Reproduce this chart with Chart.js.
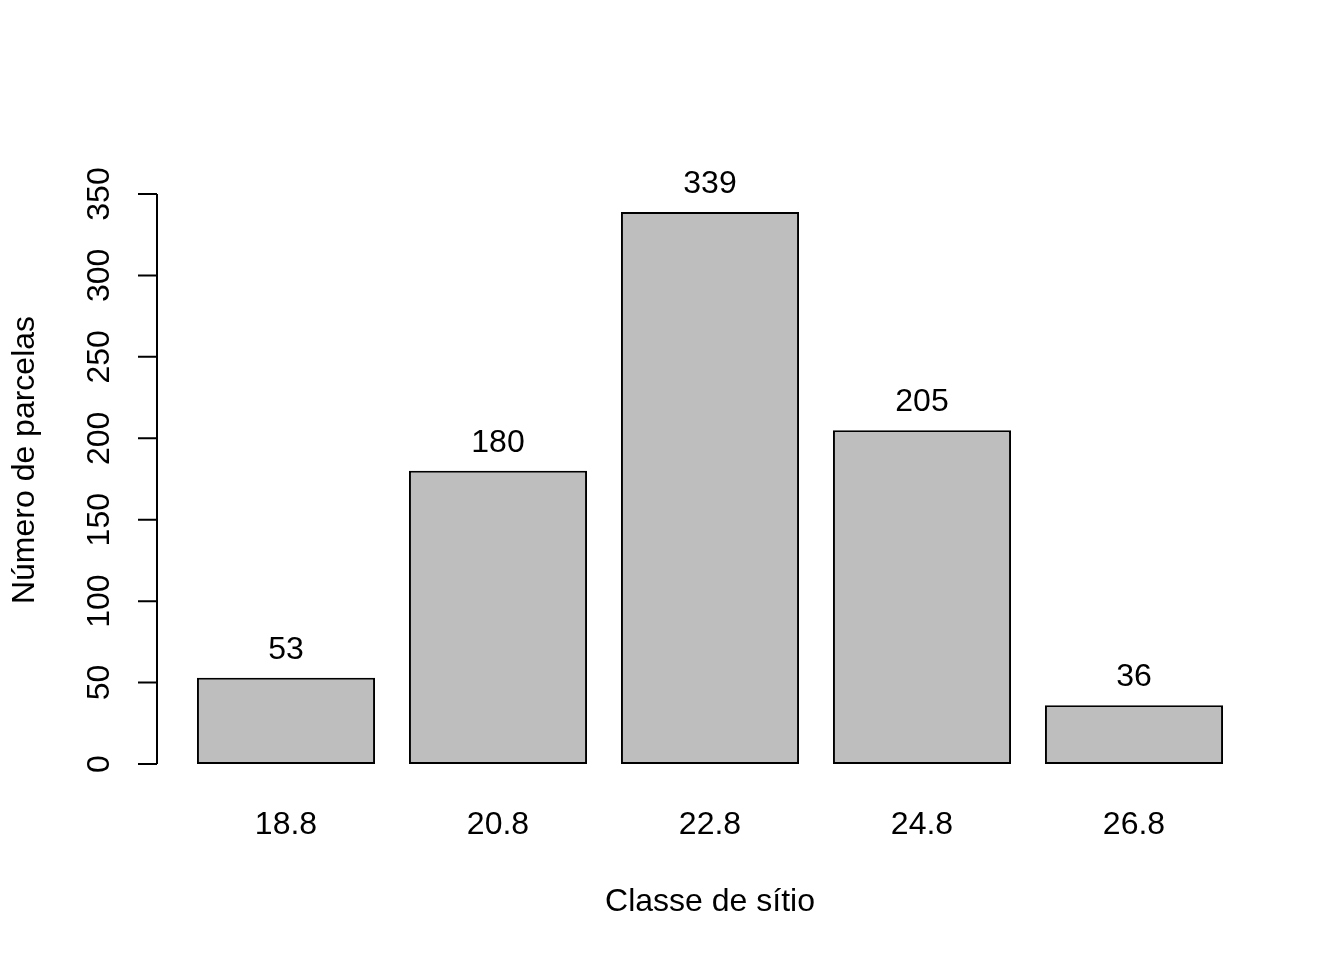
<!DOCTYPE html>
<html>
<head>
<meta charset="utf-8">
<script src="https://cdn.jsdelivr.net/npm/chart.js@4.4.1/dist/chart.umd.min.js"></script>
<style>
  html, body { margin: 0; padding: 0; background: #fff; }
  #wrap { width: 1344px; height: 960px; }
</style>
</head>
<body>
<div id="wrap"><canvas id="chart" width="1344" height="960"></canvas></div>
<script>
// dados do gráfico
const classes = ['18.8', '20.8', '22.8', '24.8', '26.8'];
const parcelas = [53, 180, 339, 205, 36];
const yTicks = [0, 50, 100, 150, 200, 250, 300, 350];

const FONT = "'Liberation Sans', Arial, sans-serif";
const FSIZE = 32;

// eixo y estilo R, rótulos das barras
const rStyle = {
  id: 'rStyle',
  afterDraw(chart) {
    const ctx = chart.ctx;
    const y = chart.scales.y;
    const area = chart.chartArea;
    const axisX = area.left - 23;
    ctx.save();
    ctx.strokeStyle = '#000';
    ctx.lineWidth = 2;
    ctx.beginPath();
    ctx.moveTo(axisX, y.getPixelForValue(yTicks[0]));
    ctx.lineTo(axisX, y.getPixelForValue(yTicks[yTicks.length - 1]));
    yTicks.forEach(v => {
      const py = y.getPixelForValue(v);
      ctx.moveTo(axisX - 19, py);
      ctx.lineTo(axisX, py);
    });
    ctx.stroke();

    ctx.fillStyle = '#000';
    ctx.font = FSIZE + 'px ' + FONT;
    ctx.textAlign = 'center';
    ctx.textBaseline = 'middle';
    yTicks.forEach(v => {
      const py = y.getPixelForValue(v);
      ctx.save();
      ctx.translate(100, py);
      ctx.rotate(-Math.PI / 2);
      ctx.fillText(String(v), 0, 0);
      ctx.restore();
    });

    // título do eixo y
    ctx.save();
    ctx.translate(25, 460);
    ctx.rotate(-Math.PI / 2);
    ctx.fillText('Número de parcelas', 0, 0);
    ctx.restore();

    // valores acima das barras
    const meta = chart.getDatasetMeta(0);
    meta.data.forEach((bar, i) => {
      ctx.fillText(String(parcelas[i]), bar.x, bar.y - 28);
    });
    ctx.restore();
  }
};

new Chart(document.getElementById('chart'), {
  type: 'bar',
  data: {
    labels: classes,
    datasets: [{
      data: parcelas,
      backgroundColor: '#BEBEBE',
      borderColor: '#000',
      borderWidth: 2,
      borderSkipped: false,
      barPercentage: 0.84,
      categoryPercentage: 1
    }]
  },
  options: {
    responsive: false,
    animation: false,
    layout: { padding: { left: 180, right: 104, top: 194, bottom: 0 } },
    plugins: { legend: { display: false }, tooltip: { enabled: false } },
    scales: {
      x: {
        grid: { display: false, drawTicks: false },
        border: { display: false },
        ticks: { color: '#000', font: { family: FONT, size: FSIZE }, padding: 42, maxRotation: 0 },
        title: {
          display: true,
          text: 'Classe de sítio',
          color: '#000',
          font: { family: FONT, size: FSIZE },
          padding: { top: 0, bottom: 39 }
        },
        afterFit(scale) { scale.height = 196; }
      },
      y: {
        display: false,
        min: 0,
        max: 350
      }
    }
  },
  plugins: [rStyle]
});
</script>
</body>
</html>
